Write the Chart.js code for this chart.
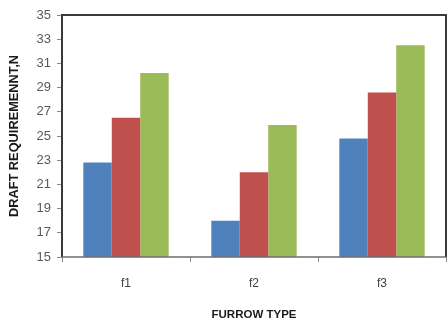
<!DOCTYPE html>
<html>
<head>
<meta charset="utf-8">
<script src="https://cdn.jsdelivr.net/npm/chart.js@4"></script>
<style>
  html, body { margin: 0; padding: 0; background: #fff; }
  #wrap { width: 447px; height: 322px; }
</style>
</head>
<body>
<div id="wrap"><canvas id="chart" width="447" height="322"></canvas></div>
<script>
const furrowTypes = ['f1', 'f2', 'f3'];
const seriesA = [22.8, 18.0, 24.8];
const seriesB = [26.5, 22.0, 28.6];
const seriesC = [30.2, 25.9, 32.5];

const AXIS_FONT = 'Liberation Sans';

// strokes the dark frame around the plot area
const plotFrame = {
    id: 'plotFrame',
    afterDatasetsDraw(chart) {
        const { ctx, chartArea: a } = chart;
        ctx.save();
        ctx.strokeStyle = '#3a3a3a';
        ctx.lineWidth = 2;
        ctx.beginPath();
        ctx.moveTo(a.left, a.bottom);
        ctx.lineTo(a.left, a.top);
        ctx.lineTo(a.right, a.top);
        ctx.lineTo(a.right, a.bottom);
        ctx.stroke();
        ctx.strokeStyle = '#6e6e6e';
        ctx.lineWidth = 1.5;
        ctx.beginPath();
        ctx.moveTo(a.left, a.bottom);
        ctx.lineTo(a.right, a.bottom);
        ctx.stroke();
        ctx.restore();
    }
};

const barDefaults = { borderWidth: 0, categoryPercentage: 0.667, barPercentage: 1.0 };

new Chart(document.getElementById('chart').getContext('2d'), {
    type: 'bar',
    data: {
        labels: furrowTypes,
        datasets: [
            { label: 'A', data: seriesA, backgroundColor: '#4F81BD', ...barDefaults },
            { label: 'B', data: seriesB, backgroundColor: '#C0504D', ...barDefaults },
            { label: 'C', data: seriesC, backgroundColor: '#9BBB59', ...barDefaults },
        ]
    },
    options: {
        responsive: false,
        animation: false,
        layout: { padding: { top: 15, right: 1, left: 0, bottom: 0 } },
        plugins: { legend: { display: false }, tooltip: { enabled: false } },
        scales: {
            x: {
                grid: { display: true, drawOnChartArea: false, drawTicks: true, tickLength: 5, color: '#8a8a8a', offset: true },
                border: { display: false },
                ticks: { color: '#404040', font: { family: AXIS_FONT, size: 12 }, padding: 14 },
                title: {
                    display: true,
                    text: 'FURROW TYPE',
                    color: '#1a1a1a',
                    font: { family: AXIS_FONT, size: 11.5, weight: 'bold' },
                    padding: { top: 12, bottom: 0 }
                },
                afterFit(scale) { scale.height = 65; }
            },
            y: {
                min: 15,
                max: 35,
                grid: { display: true, drawOnChartArea: false, drawTicks: true, tickLength: 5, color: '#8a8a8a' },
                border: { display: false },
                ticks: { stepSize: 2, color: '#595959', font: { family: AXIS_FONT, size: 13 }, padding: 6 },
                title: {
                    display: true,
                    text: 'DRAFT REQUIREMENNT,N',
                    color: '#1a1a1a',
                    font: { family: AXIS_FONT, size: 12.8, weight: 'bold' },
                    padding: { top: 7, bottom: 4 }
                },
                afterFit(scale) { scale.width = 62; }
            }
        }
    },
    plugins: [plotFrame]
});
</script>
</body>
</html>
